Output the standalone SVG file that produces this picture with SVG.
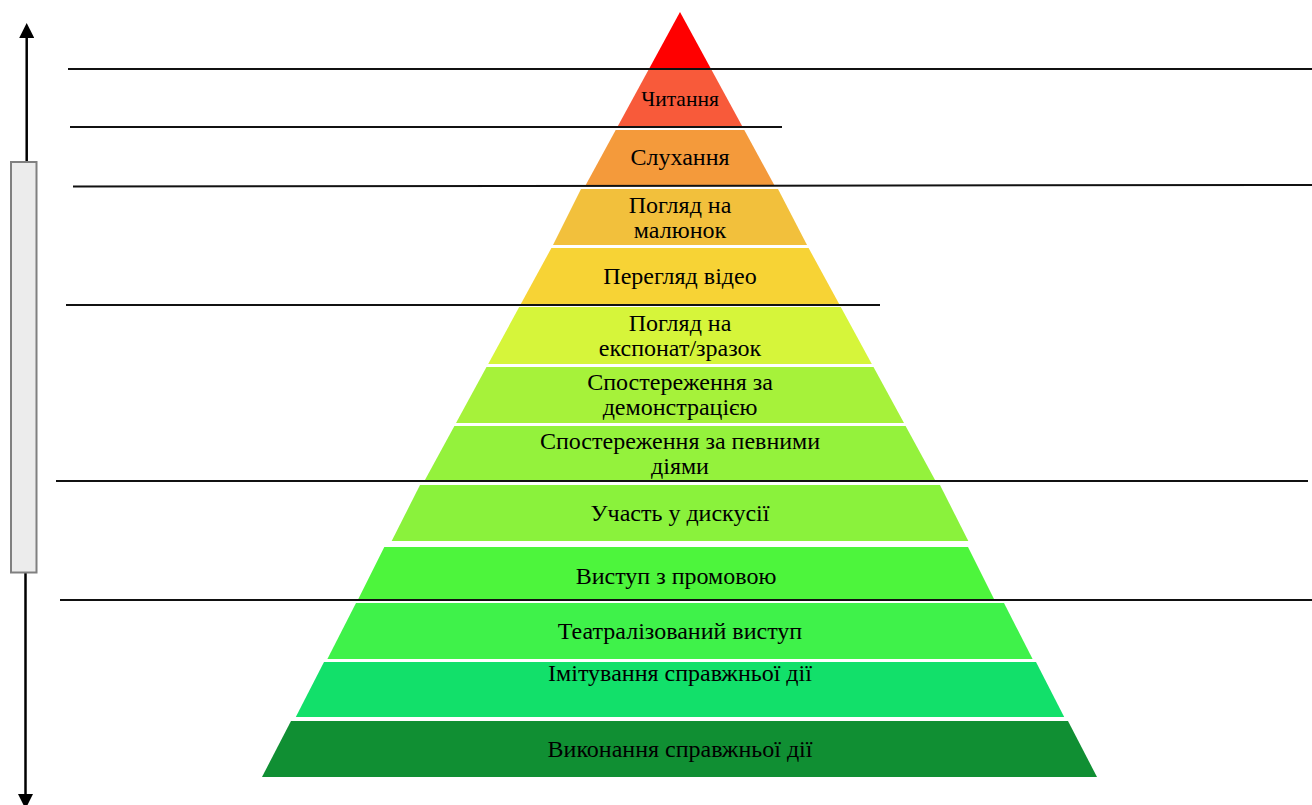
<svg xmlns="http://www.w3.org/2000/svg" width="1312" height="805" viewBox="0 0 1312 805">
<defs>
<style>
.t{font-family:"Liberation Serif","Times New Roman",serif;font-size:24px;fill:#000;text-anchor:middle}
.s{font-size:21.5px}
.hl{stroke:#111;stroke-width:2;fill:none}
.ax{stroke:#000;stroke-width:2.5;fill:none}
</style>
<marker id="ah" viewBox="0 0 10 10" refX="0" refY="5" markerWidth="15" markerHeight="15" markerUnits="userSpaceOnUse" orient="auto">
<path d="M0,0 L10,5 L0,10 z" fill="#000"/>
</marker>
</defs>
<rect width="1312" height="805" fill="#fff"/>
<g id="pyramid">
<g id="l0"><polygon points="680,12 710.5,68 649.5,68" fill="#FF0000"/></g>
<g id="l1"><polygon points="648.4,70 711.6,70 742.1,126 617.9,126" fill="#F85A3A"/><text class="t s" x="680" y="106">Читання</text></g>
<g id="l2"><polygon points="615.7,130 744.3,130 774.8,186 585.2,186" fill="#F49A3B"/><text class="t" x="680" y="165">Слухання</text></g>
<g id="l3"><polygon points="581,189 778,189 807,245 553,245" fill="#F2C03C"/><text class="t" x="680" y="213">Погляд на</text><text class="t" x="680" y="238">малюнок</text></g>
<g id="l4"><polygon points="551.4,248 808.6,248 839.7,305 520.3,305" fill="#F7D335"/><text class="t" x="680" y="284">Перегляд відео</text></g>
<g id="l5"><polygon points="519.2,307 840.8,307 871.8,364 488.2,364" fill="#D6F53A"/><text class="t" x="680" y="331">Погляд на</text><text class="t" x="680" y="356">експонат/зразок</text></g>
<g id="l6"><polygon points="486.5,367 873.5,367 904,423 456,423" fill="#A6F23A"/><text class="t" x="680" y="390">Спостереження за</text><text class="t" x="680" y="415">демонстрацією</text></g>
<g id="l7"><polygon points="454.4,426 905.6,426 935.6,481 424.4,481" fill="#94F23C"/><text class="t" x="680" y="449">Спостереження за певними</text><text class="t" x="680" y="474">діями</text></g>
<g id="l8"><polygon points="420,485 940,485 968.3,541 391.7,541" fill="#8AF23C"/><text class="t" x="680" y="521">Участь у дискусії</text></g>
<g id="l9"><polygon points="384.3,547 968,547 994,599 358.3,599" fill="#4DF53C"/><text class="t" x="676" y="584">Виступ з промовою</text></g>
<g id="l10"><polygon points="356,603 1004,603 1032.6,659 327.4,659" fill="#3FF24A"/><text class="t" x="680" y="639">Театралізований виступ</text></g>
<g id="l11"><polygon points="324,662 1036,662 1064.2,717 295.8,717" fill="#12E06A"/><text class="t" x="680" y="681">Імітування справжньої дії</text></g>
<g id="l12"><polygon points="291,721 1068,721 1097,777 262,777" fill="#108F33"/><text class="t" x="680" y="757">Виконання справжньої дії</text></g>
</g>
<g id="connectors">
<line class="hl" x1="68" y1="69" x2="1312" y2="69"/>
<line class="hl" x1="70" y1="127" x2="782" y2="127"/>
<line class="hl" x1="73" y1="186.5" x2="1312" y2="185"/>
<line class="hl" x1="66" y1="305" x2="880" y2="305"/>
<line class="hl" x1="56" y1="481" x2="1308" y2="481"/>
<line class="hl" x1="60" y1="600" x2="1312" y2="600"/>
<line class="ax" x1="26.7" y1="162" x2="26.7" y2="38" marker-end="url(#ah)"/>
<line class="ax" x1="25.5" y1="573" x2="25.5" y2="794" marker-end="url(#ah)"/>
</g>
<g id="bar"><rect x="11" y="162" width="25.5" height="410.5" fill="#ECECEC" stroke="#808080" stroke-width="2"/></g>
</svg>
